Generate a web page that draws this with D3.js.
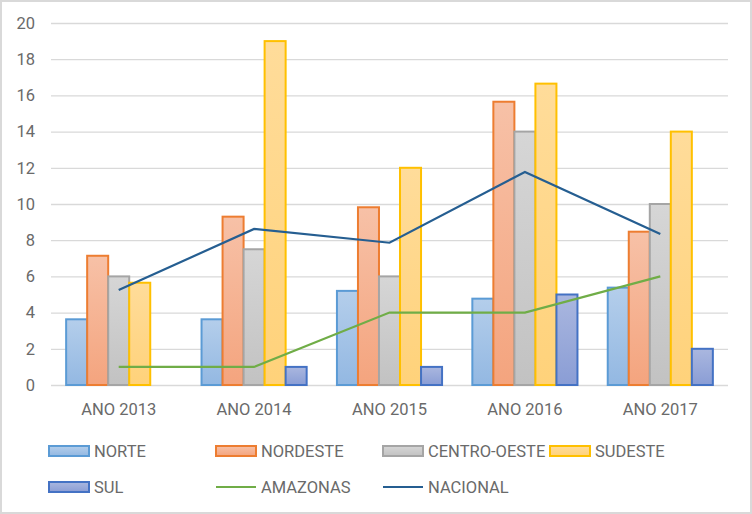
<!DOCTYPE html>
<html>
<head>
<meta charset="utf-8">
<script src="https://cdn.jsdelivr.net/npm/d3@7"></script>
<style>
  html, body { margin: 0; padding: 0; background: #fff; }
  svg text { font-family: Roboto, "Liberation Sans", sans-serif; fill: #6a6a6a; }
</style>
</head>
<body>
<svg id="chart" width="752" height="514"></svg>
<script>
var years = ['ANO 2013', 'ANO 2014', 'ANO 2015', 'ANO 2016', 'ANO 2017'];
var barSeries = ['NORTE', 'NORDESTE', 'CENTRO-OESTE', 'SUDESTE', 'SUL'];

var norte = [3.63, 3.63, 5.2, 4.77, 5.38];
var nordeste = [7.14, 9.3, 9.82, 15.65, 8.47];
var centroOeste = [6, 7.5, 6, 14, 10];
var sudeste = [5.65, 19, 12, 16.65, 14];
var sul = [null, 1, 1, 5, 2];

var amazonas = [1, 1, 4, 4, 6];
var nacional = [5.25, 8.62, 7.86, 11.77, 8.34];

var yTicks = [0, 2, 4, 6, 8, 10, 12, 14, 16, 18, 20];

var barValues = [norte, nordeste, centroOeste, sudeste, sul];
var barStyles = [
  { stroke: '#5b9bd5', top: '#b4ceeb', bottom: '#93b8e2' },
  { stroke: '#ed7d31', top: '#f7c1a7', bottom: '#f4a47e' },
  { stroke: '#a5a5a5', top: '#d6d6d6', bottom: '#c2c2c2' },
  { stroke: '#ffc000', top: '#ffdc9a', bottom: '#ffd27a' },
  { stroke: '#4472c4', top: '#aab7df', bottom: '#8a9dd5' }
];
var lineSeries = [
  { name: 'AMAZONAS', values: amazonas, color: '#70ad47' },
  { name: 'NACIONAL', values: nacional, color: '#255e91' }
];

var svg = d3.select('#chart');

svg.append('rect').attr('x', 1).attr('y', 1).attr('width', 750).attr('height', 512)
  .attr('fill', '#fff').attr('stroke', '#d9d9d9').attr('stroke-width', 2);

var defs = svg.append('defs');
barStyles.forEach(function (s, i) {
  var g = defs.append('linearGradient').attr('id', 'grad' + i)
    .attr('x1', 0).attr('y1', 0).attr('x2', 0).attr('y2', 1);
  g.append('stop').attr('offset', '0%').attr('stop-color', s.top);
  g.append('stop').attr('offset', '100%').attr('stop-color', s.bottom);
});

var x0 = d3.scaleBand().domain(years).range([51, 728]);
var x1 = d3.scaleBand().domain(barSeries).range([0, x0.bandwidth()]).paddingOuter(0.72);
var y = d3.scaleLinear().domain([0, 20]).range([385, 23]);

// grid
svg.append('g').selectAll('line').data(yTicks).enter().append('line')
  .attr('x1', 51).attr('x2', 728)
  .attr('y1', function (d) { return y(d) + 0.5; })
  .attr('y2', function (d) { return y(d) + 0.5; })
  .attr('stroke', '#d9d9d9').attr('stroke-width', 1.3);

svg.append('g').selectAll('text').data(yTicks).enter().append('text')
  .attr('x', 35).attr('y', function (d) { return y(d); })
  .attr('dy', '0.35em').attr('text-anchor', 'end')
  .style('font-size', '16.5px')
  .text(function (d) { return d; });

svg.append('g').selectAll('text').data(years).enter().append('text')
  .attr('x', function (d) { return x0(d) + x0.bandwidth() / 2; })
  .attr('y', 409).attr('dy', '0.35em').attr('text-anchor', 'middle')
  .style('font-size', '16.5px')
  .text(function (d) { return d; });

// bars
var barData = [];
barSeries.forEach(function (s, i) {
  years.forEach(function (yr, j) {
    if (barValues[i][j] != null) {
      barData.push({ series: s, idx: i, year: yr, value: barValues[i][j] });
    }
  });
});

svg.append('g').selectAll('rect').data(barData).enter().append('rect')
  .attr('x', function (d) { return x0(d.year) + x1(d.series); })
  .attr('y', function (d) { return y(d.value); })
  .attr('width', x1.bandwidth())
  .attr('height', function (d) { return y(0) - y(d.value); })
  .attr('fill', function (d) { return 'url(#grad' + d.idx + ')'; })
  .attr('stroke', function (d) { return barStyles[d.idx].stroke; })
  .attr('stroke-width', 2);

// lines
var line = d3.line()
  .x(function (d, i) { return x0(years[i]) + x0.bandwidth() / 2; })
  .y(function (d) { return y(d); });

svg.append('g').selectAll('path').data(lineSeries).enter().append('path')
  .attr('d', function (d) { return line(d.values); })
  .attr('fill', 'none')
  .attr('stroke', function (d) { return d.color; })
  .attr('stroke-width', 2.2);

// legend
var legendItems = barSeries.map(function (s, i) {
  return { name: s, kind: 'bar', idx: i };
}).concat(lineSeries.map(function (l) {
  return { name: l.name, kind: 'line', color: l.color };
}));

var legend = svg.append('g').selectAll('g').data(legendItems).enter().append('g')
  .attr('transform', function (d, i) {
    return 'translate(' + (49 + (i % 4) * 167) + ',' + (451 + Math.floor(i / 4) * 36) + ')';
  });

legend.filter(function (d) { return d.kind === 'bar'; }).append('rect')
  .attr('x', 0).attr('y', -5).attr('width', 40).attr('height', 10)
  .attr('fill', function (d) { return 'url(#grad' + d.idx + ')'; })
  .attr('stroke', function (d) { return barStyles[d.idx].stroke; })
  .attr('stroke-width', 2);

legend.filter(function (d) { return d.kind === 'line'; }).append('line')
  .attr('x1', 0).attr('x2', 40).attr('y1', 0).attr('y2', 0)
  .attr('stroke', function (d) { return d.color; })
  .attr('stroke-width', 2.2);

legend.append('text')
  .attr('x', 45).attr('y', 0).attr('dy', '0.35em')
  .style('font-size', '16.5px')
  .text(function (d) { return d.name; });
</script>
</body>
</html>
